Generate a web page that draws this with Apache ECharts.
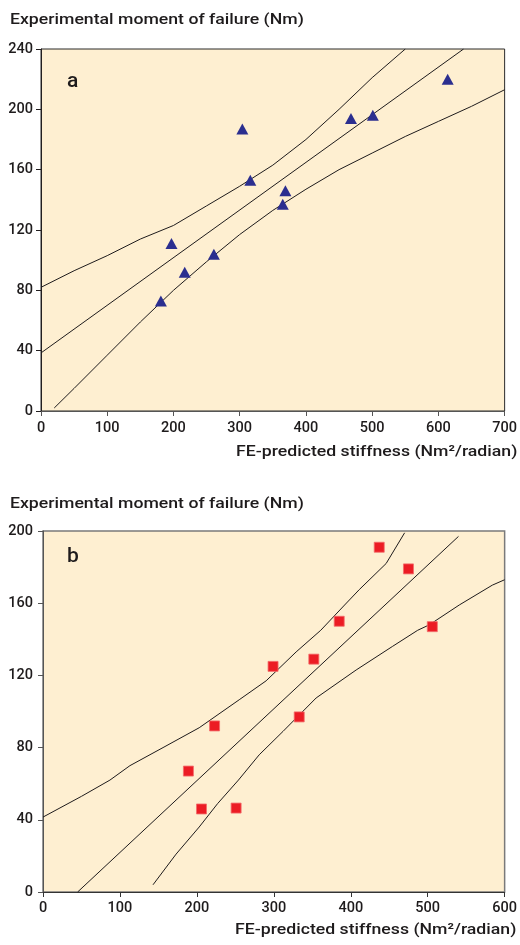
<!DOCTYPE html>
<html>
<head>
<meta charset="utf-8">
<script src="https://cdn.jsdelivr.net/npm/echarts@6/dist/echarts.min.js"></script>
<style>
html,body{margin:0;padding:0;background:#fff;}
#c{width:520px;height:945px;}
</style>
</head>
<body>
<div id="c"></div>
<script>
// Panel a: FE-predicted stiffness vs experimental moment (triangles)
const aStiffness = [614, 468, 501, 304, 316, 369, 365, 197, 217, 261, 181];
const aMoment    = [220, 194, 196, 187, 153, 146, 137, 111, 92, 104, 73];
const aFitX   = [0, 638];
const aFitY   = [38.5, 240];
const aUpperX = [0, 50, 100, 150, 200, 250, 300, 350, 400, 450, 500, 550];
const aUpperY = [82, 93, 103, 114, 123, 136, 149, 163, 180, 200, 221, 240];
const aLowerX = [20, 50, 100, 150, 200, 250, 300, 350, 400, 450, 500, 550, 600, 650, 700];
const aLowerY = [2, 15, 37, 59, 80, 99, 117, 133, 147, 160, 171, 182, 192, 202, 213];

// Panel b: squares
const bStiffness = [437, 475, 385, 506, 299, 352, 333, 223, 189, 206, 251];
const bMoment    = [191, 179, 150, 147, 125, 129, 97, 92, 67, 46, 46.5];
const bFitX   = [45, 540];
const bFitY   = [0, 197];
const bUpperX = [0, 50, 87, 113, 156, 203, 255, 290, 329, 361, 392, 411, 446, 470];
const bUpperY = [41.5, 53, 62, 70, 80, 91, 106.5, 117, 133, 145, 159, 167.5, 182, 199];
const bLowerX = [143, 173, 203, 227, 254, 281, 312, 355, 407, 454, 487, 502, 541, 584, 600];
const bLowerY = [4, 21, 36, 49, 62, 76, 89, 107.5, 123, 136, 145, 148, 159, 170, 173];

const aXTicks = [0, 700, 100];
const aYTicks = [0, 240, 40];
const bXTicks = [0, 600, 100];
const bYTicks = [0, 200, 40];

const yTitle = 'Experimental moment of failure (Nm)';
const xTitle = 'FE-predicted stiffness (Nm\u00B2/radian)';

const pair = (xs, ys) => xs.map((x, i) => [x, ys[i]]);
const FONT = 'Roboto, "Liberation Sans", Arial, sans-serif';
const INK = '#1e1b1c';

function axis(gi, t, axisColor, margin) {
  return {
    type: 'value', gridIndex: gi, min: t[0], max: t[1], interval: t[2],
    axisLine: {show: true, onZero: false, lineStyle: {color: axisColor, width: 1}},
    axisTick: {show: true, inside: false, length: 5, lineStyle: {color: axisColor}},
    axisLabel: {color: INK, fontSize: 14.5, fontWeight: 500, fontFamily: FONT, margin: margin},
    splitLine: {show: false}
  };
}
function lineSeries(gi, data) {
  return {
    type: 'line', xAxisIndex: gi, yAxisIndex: gi, data: data,
    showSymbol: false, symbol: 'none', smooth: false, silent: true,
    lineStyle: {color: INK, width: 1}, z: 2
  };
}
function textEl(str, x, y, size, sx) {
  return {
    type: 'text', x: x, y: y, scaleX: sx, scaleY: 1,
    style: {text: str, x: 0, y: 0, fill: INK, font: '500 ' + size + 'px ' + FONT,
            textAlign: 'left', textVerticalAlign: 'middle'}
  };
}

const chart = echarts.init(document.getElementById('c'), null, {renderer: 'canvas'});
chart.setOption({
  animation: false,
  backgroundColor: '#ffffff',
  grid: [
    {left: 41, top: 49, width: 465, height: 362, show: true,
     backgroundColor: '#FEEFD1', borderColor: '#2a2a2a', borderWidth: 1},
    {left: 43, top: 531, width: 462, height: 361, show: true,
     backgroundColor: '#FEEFD1', borderColor: '#7a7a7a', borderWidth: 1.5}
  ],
  xAxis: [axis(0, aXTicks, '#555555', 10), axis(1, bXTicks, '#333333', 9)],
  yAxis: [axis(0, aYTicks, '#231f20', 8), axis(1, bYTicks, '#555555', 10)],
  graphic: [
    textEl(yTitle, 10, 20.5, 15.5, 1.14),
    textEl(xTitle, 236, 452.5, 15.5, 1.14),
    textEl(yTitle, 10, 504.5, 15.5, 1.14),
    textEl(xTitle, 235, 930, 15.5, 1.14),
    {type: 'text', x: 67, y: 81.5, style: {text: 'a', x: 0, y: 0, fill: INK,
      font: '500 21px ' + FONT, textAlign: 'left', textVerticalAlign: 'middle'}},
    {type: 'text', x: 67, y: 557, style: {text: 'b', x: 0, y: 0, fill: INK,
      font: '500 21px ' + FONT, textAlign: 'left', textVerticalAlign: 'middle'}}
  ],
  series: [
    lineSeries(0, pair(aUpperX, aUpperY)),
    lineSeries(0, pair(aFitX, aFitY)),
    lineSeries(0, pair(aLowerX, aLowerY)),
    {type: 'scatter', xAxisIndex: 0, yAxisIndex: 0, data: pair(aStiffness, aMoment),
     symbol: 'triangle', symbolSize: [12, 11],
     itemStyle: {color: '#2B2E8F', opacity: 1}, z: 3},
    lineSeries(1, pair(bUpperX, bUpperY)),
    lineSeries(1, pair(bFitX, bFitY)),
    lineSeries(1, pair(bLowerX, bLowerY)),
    {type: 'scatter', xAxisIndex: 1, yAxisIndex: 1, data: pair(bStiffness, bMoment),
     symbol: 'rect', symbolSize: 10,
     itemStyle: {color: '#EC1C24', borderColor: '#F26B6B', borderWidth: 0.8, opacity: 1}, z: 3}
  ]
});
</script>
</body>
</html>
